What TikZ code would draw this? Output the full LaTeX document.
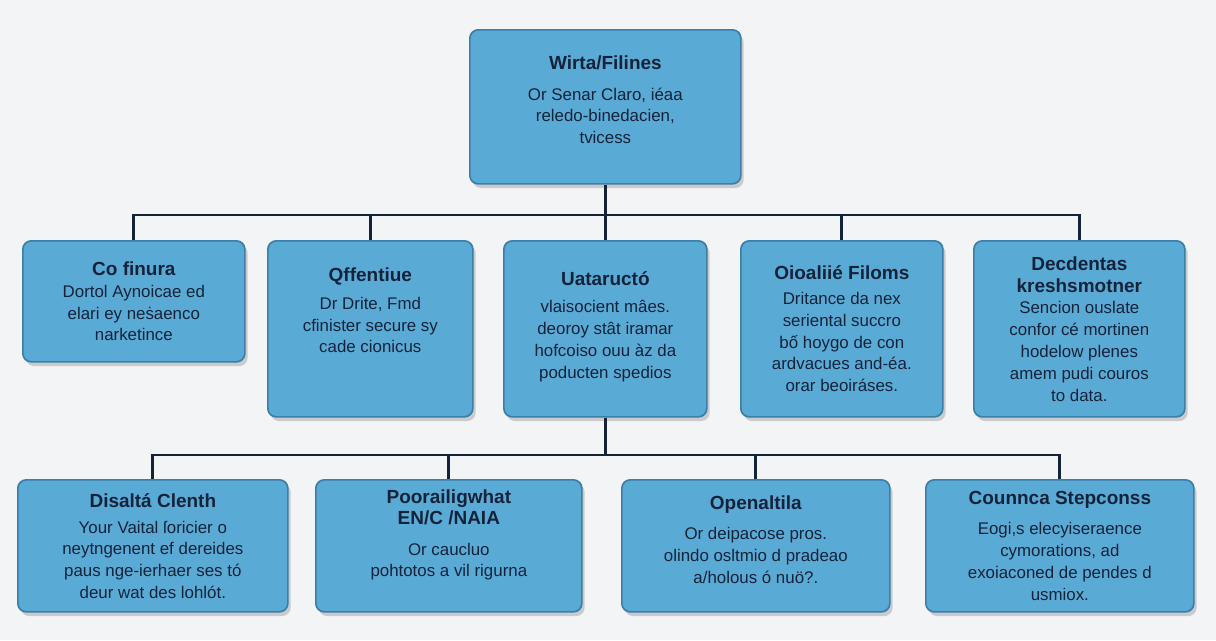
\documentclass[tikz,border=0pt]{standalone}
\usepackage{fontspec}
\setmainfont{Liberation Sans}
\usetikzlibrary{shadows}
\definecolor{boxfill}{HTML}{5AAAD6}
\definecolor{boxline}{HTML}{3B7EA8}
\definecolor{boxtext}{HTML}{15233A}
\definecolor{bg}{HTML}{F3F4F6}
\tikzstyle{box} = [draw=boxline, line width=1.2pt, fill=boxfill, rounded corners=6pt, anchor=north west, text=boxtext, align=center, font=\fontsize{12}{15.5}\selectfont, drop shadow={shadow xshift=2pt, shadow yshift=-3pt, opacity=0.35}]
\tikzstyle{wire} = [draw=boxtext, line width=2pt]
\newcommand{\ttl}[1]{{\bfseries\fontsize{13.5}{16}\selectfont #1}}
\begin{document}
\begin{tikzpicture}[x=0.025cm, y=-0.025cm]
		\fill [bg] (0,0) rectangle (1216,640);
		\useasboundingbox (0,0) rectangle (1216,640);

		\node (top) [box, minimum width=271*0.025cm, minimum height=154*0.025cm, text depth=10pt] at (469,29) {\ttl{Wirta/Filines}\\[6pt]Or Senar Claro, iéaa\\reledo-binedacien,\\tvicess};

		\node (co) [box, minimum width=222*0.025cm, minimum height=121*0.025cm] at (22,240) {\ttl{Co finura}\\Dortol Aynoicae ed\\elari ey neṡaenco\\narketince};
		\node (off) [box, minimum width=205*0.025cm, minimum height=176*0.025cm, text depth=26pt] at (267,240) {\ttl{Qffentiue}\\[4pt]Dr Drite, Fmd\\cfinister secure sy\\cade cionicus};
		\node (uat) [box, minimum width=203*0.025cm, minimum height=176*0.025cm, text depth=6pt] at (503,240) {\ttl{Uataructó}\\[4pt]vlaisocient mâes.\\deoroy stât iramar\\hofcoiso ouu àz da\\poducten spedios};
		\node (oio) [box, minimum width=202*0.025cm, minimum height=176*0.025cm] at (740,240) {\ttl{Oioaliié Filoms}\\[2pt]Dritance da nex\\seriental succro\\bố hoygo de con\\ardvacues and-éa.\\orar beoiráses.};
		\node (dec) [box, minimum width=211*0.025cm, minimum height=176*0.025cm] at (973,240) {\ttl{Decdentas}\\\ttl{kreshsmotner}\\Sencion ouslate\\confor cé mortinen\\hodelow plenes\\amem pudi couros\\to data.};

		\node (dis) [box, minimum width=270*0.025cm, minimum height=132*0.025cm] at (17,479) {\ttl{Disaltá Clenth}\\[3pt]Your Vaital ſoricier o\\neytngenent ef dereides\\paus nge-ierhaer ses tó\\deur wat des lohlót.};
		\node (poo) [box, minimum width=266*0.025cm, minimum height=132*0.025cm, text depth=18pt] at (315,479) {\ttl{Poorailigwhat}\\\ttl{EN/C /NAIA}\\[6pt]Or caucluo\\pohtotos a vil rigurna};
		\node (ope) [box, minimum width=268*0.025cm, minimum height=132*0.025cm, text depth=9pt] at (621,479) {\ttl{Openaltila}\\[6pt]Or deipacose pros.\\olindo osltmio d pradeao\\a/holous ó nuö?.};
		\node (cou) [box, minimum width=268*0.025cm, minimum height=132*0.025cm] at (925,479) {\ttl{Counnca Stepconss}\\[6pt]Eogi,s elecyiseraence\\cymorations, ad\\exoiaconed de pendes d\\usmiox.};

		\coordinate (bus1) at (top.south |- 0,215);
		\coordinate (bus2) at (uat.south |- 0,455);
		\draw [wire] (top.south) -- (bus1);
		\foreach \child in {co, off, uat, oio, dec}
			\draw [wire] (bus1) -| (\child.north);
		\draw [wire] (uat.south) -- (bus2);
		\foreach \child in {dis, poo, ope, cou}
			\draw [wire] (bus2) -| (\child.north);
\end{tikzpicture}
\end{document}
